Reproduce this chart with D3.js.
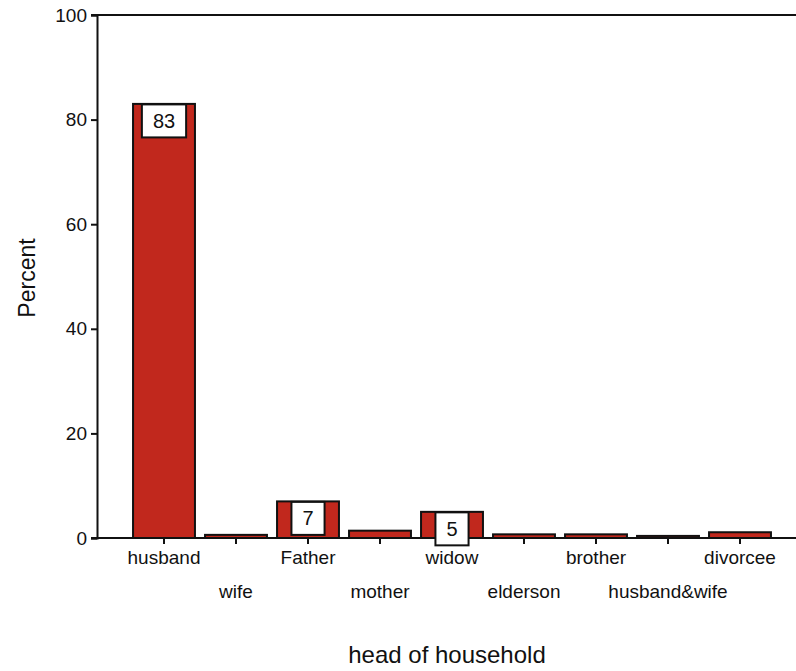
<!DOCTYPE html>
<html>
<head>
<meta charset="utf-8">
<script src="https://cdn.jsdelivr.net/npm/d3@7"></script>
<style>
  html, body { margin: 0; padding: 0; background: #fff; }
  svg { display: block; font-family: "Liberation Sans", Arial, sans-serif; }
</style>
</head>
<body>
<svg id="chart" width="796" height="671"></svg>
<script>
// Head of household distribution (percent)
const categories = ["husband", "wife", "Father", "mother", "widow", "elderson", "brother", "husband&wife", "divorcee"];
const percents = [83, 0.6, 7, 1.4, 5, 0.7, 0.7, 0.4, 1.1];
// Bars that carry a value label
const labelled = { "husband": "83", "Father": "7", "widow": "5" };
const yTicks = [0, 20, 40, 60, 80, 100];

const svg = d3.select("#chart");
const plotLeft = 97, plotRight = 796, plotTop = 15, plotBottom = 538;

const x = d3.scaleBand()
  .domain(categories)
  .range([128, 776])
  .paddingInner(0.14)
  .paddingOuter(0.07);

const y = d3.scaleLinear().domain([0, 100]).range([plotBottom, plotTop]);

const barColor = "#c1281d";
const ink = "#111";

// bars
svg.append("g").selectAll("rect")
  .data(categories)
  .join("rect")
  .attr("x", d => x(d))
  .attr("width", x.bandwidth())
  .attr("y", (d, i) => y(percents[i]))
  .attr("height", (d, i) => plotBottom - y(percents[i]))
  .attr("fill", barColor)
  .attr("stroke", ink)
  .attr("stroke-width", 2);

// y axis
const yAxis = svg.append("g")
  .attr("transform", `translate(${plotLeft},0)`)
  .call(d3.axisLeft(y).tickValues(yTicks).tickSize(6).tickPadding(4).tickFormat(d3.format("d")));
yAxis.select(".domain").attr("stroke", ink).attr("stroke-width", 2);
yAxis.selectAll(".tick line").attr("stroke", ink).attr("stroke-width", 2);
yAxis.selectAll(".tick text")
  .attr("font-size", 19)
  .attr("fill", ink)
  .attr("font-family", "Liberation Sans, Arial, sans-serif");

// x axis with staggered labels
const xAxis = svg.append("g")
  .attr("transform", `translate(0,${plotBottom})`)
  .call(d3.axisBottom(x).tickSize(6).tickFormat(""));
xAxis.select(".domain").remove();
xAxis.selectAll(".tick line").attr("stroke", ink).attr("stroke-width", 2);
xAxis.selectAll(".tick").append("text")
  .attr("fill", ink)
  .attr("font-size", 19)
  .attr("text-anchor", "middle")
  .attr("y", (d, i) => i % 2 === 0 ? 26 : 60)
  .text(d => d);

// baseline and top frame line
svg.append("line")
  .attr("x1", plotLeft - 6).attr("x2", plotRight)
  .attr("y1", plotBottom).attr("y2", plotBottom)
  .attr("stroke", ink).attr("stroke-width", 2);
svg.append("line")
  .attr("x1", plotLeft - 6).attr("x2", plotRight)
  .attr("y1", plotTop).attr("y2", plotTop)
  .attr("stroke", ink).attr("stroke-width", 2);

// value labels in boxes near the top of the bar
const lab = svg.append("g");
categories.forEach((c, i) => {
  if (!labelled[c]) return;
  const cx = x(c) + x.bandwidth() / 2;
  const cy = y(percents[i]) + 17;
  const t = lab.append("text")
    .attr("x", cx).attr("y", cy)
    .attr("text-anchor", "middle")
    .attr("dominant-baseline", "central")
    .attr("font-size", 20)
    .attr("fill", ink)
    .text(labelled[c]);
  const w = t.node().getComputedTextLength() + 22;
  lab.insert("rect", () => t.node())
    .attr("x", cx - w / 2).attr("y", cy - 16.5)
    .attr("width", w).attr("height", 33)
    .attr("fill", "#fff")
    .attr("stroke", ink).attr("stroke-width", 2);
});

// axis titles
svg.append("text")
  .attr("x", 447).attr("y", 663)
  .attr("text-anchor", "middle")
  .attr("font-size", 24)
  .attr("fill", ink)
  .text("head of household");
svg.append("text")
  .attr("transform", `translate(35,278) rotate(-90)`)
  .attr("text-anchor", "middle")
  .attr("font-size", 23)
  .attr("fill", ink)
  .text("Percent");
</script>
</body>
</html>
